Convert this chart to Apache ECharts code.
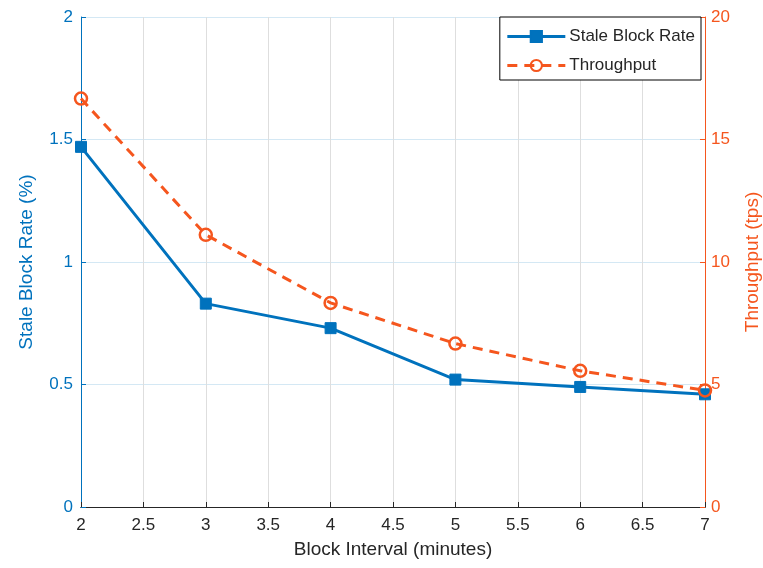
<!DOCTYPE html>
<html><head><meta charset="utf-8">
<script src="https://cdn.jsdelivr.net/npm/echarts@6/dist/echarts.min.js"></script>
<style>html,body{margin:0;padding:0;background:#fff;overflow:hidden}#c{width:763px;height:568px}</style>
</head><body><div id="c"></div>
<script>
var blockInterval = [2, 3, 4, 5, 6, 7];
var staleRate = [1.47, 0.83, 0.73, 0.52, 0.49, 0.46];
var throughput = [16.67, 11.11, 8.33, 6.67, 5.56, 4.76];
var xTicks = [2, 2.5, 3, 3.5, 4, 4.5, 5, 5.5, 6, 6.5, 7];

var BLUE = '#0072BD', ORANGE = '#F5561E', DARK = '#262626', FONT = 'Liberation Sans, Arial, sans-serif';
var chart = echarts.init(document.getElementById('c'), null, {renderer: 'canvas'});
chart.setOption({
  animation: false,
  textStyle: {fontFamily: FONT},
  grid: {left: 81, right: 58, top: 17, bottom: 61, containLabel: false, outerBoundsMode: 'none'},
  legend: {
    right: 62, top: 17, orient: 'vertical', itemWidth: 58, itemHeight: 14, itemGap: 12,
    padding: [11, 6, 6, 6],
    backgroundColor: '#fff', borderColor: '#000', borderWidth: 1, borderRadius: 0,
    lineStyle: {width: 3},
    textStyle: {fontSize: 17, color: DARK, fontFamily: FONT, padding: [0, 0, 0, -1]},
    data: ['Stale Block Rate', 'Throughput']
  },
  xAxis: [{
    type: 'value', min: 2, max: 7, interval: 0.5,
    name: 'Block Interval (minutes)', nameLocation: 'middle', nameGap: 33,
    nameTextStyle: {fontSize: 19, color: DARK},
    axisLine: {show: true, lineStyle: {color: DARK, width: 1}},
    axisTick: {show: true, inside: true, length: 5, lineStyle: {color: DARK}},
    axisLabel: {fontSize: 17, color: DARK, margin: 10,
      formatter: function (v) { return xTicks.indexOf(v) >= 0 ? String(v) : ''; }},
    splitLine: {show: true, lineStyle: {color: '#dedede', width: 1}}
  }, {
    type: 'value', min: 2, max: 7, position: 'top',
    axisLine: {show: true, lineStyle: {color: DARK, width: 1}},
    axisTick: {show: false}, axisLabel: {show: false}, splitLine: {show: false}
  }],
  yAxis: [{
    type: 'value', min: 0, max: 2, interval: 0.5, position: 'left',
    name: 'Stale Block Rate (%)', nameLocation: 'middle', nameGap: 45,
    nameTextStyle: {fontSize: 19, color: BLUE},
    axisLine: {show: true, lineStyle: {color: BLUE, width: 1}},
    axisTick: {show: true, inside: true, length: 5, lineStyle: {color: BLUE}},
    axisLabel: {fontSize: 17, color: BLUE, margin: 8},
    splitLine: {show: true, lineStyle: {color: '#d4e8f4', width: 1}}
  }, {
    type: 'value', min: 0, max: 20, interval: 5, position: 'right',
    name: 'Throughput (tps)', nameLocation: 'middle', nameGap: 38, nameRotate: 90,
    nameTextStyle: {fontSize: 19, color: ORANGE},
    axisLine: {show: true, lineStyle: {color: ORANGE, width: 1}},
    axisTick: {show: true, inside: true, length: 5, lineStyle: {color: ORANGE}},
    axisLabel: {fontSize: 17, color: ORANGE, margin: 6},
    splitLine: {show: false}
  }],
  series: [{
    name: 'Stale Block Rate', type: 'line', xAxisIndex: 0, yAxisIndex: 0,
    data: blockInterval.map(function (x, i) { return [x, staleRate[i]]; }),
    symbol: 'rect', symbolSize: 11,
    lineStyle: {color: BLUE, width: 3},
    itemStyle: {color: BLUE, borderColor: BLUE, borderWidth: 1},
    z: 3
  }, {
    name: 'Throughput', type: 'line', xAxisIndex: 0, yAxisIndex: 1,
    data: blockInterval.map(function (x, i) { return [x, throughput[i]]; }),
    symbol: 'circle', symbolSize: 12,
    lineStyle: {color: ORANGE, width: 3, type: [10, 7]},
    itemStyle: {color: 'rgba(255,255,255,0)', borderColor: ORANGE, borderWidth: 2.5},
    z: 4
  }]
});
</script></body></html>
